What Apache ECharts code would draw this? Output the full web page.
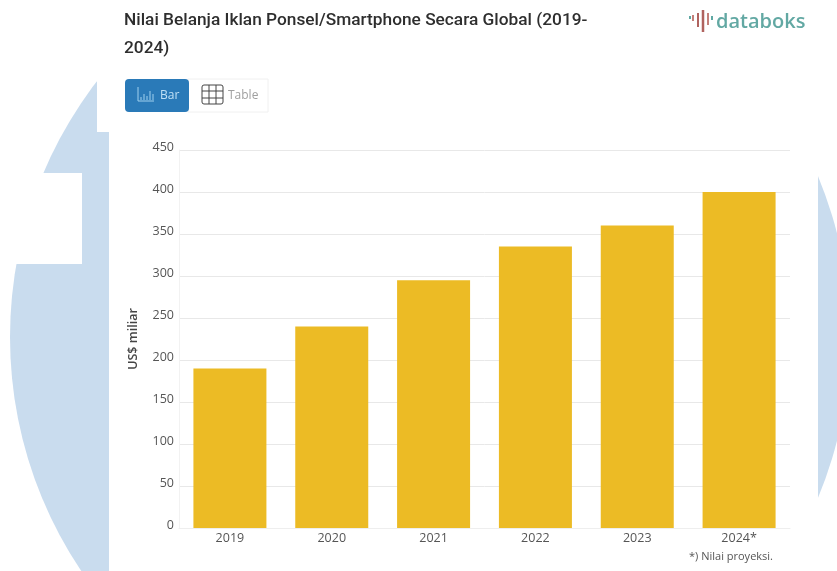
<!DOCTYPE html>
<html>
<head>
<meta charset="utf-8">
<style>html,body{margin:0;padding:0;background:#fff}#chart{width:837px;height:571px}</style>
<script src="https://cdn.jsdelivr.net/npm/echarts@6/dist/echarts.min.js"></script>
</head>
<body>
<div id="chart"></div>
<script>
// Mobile advertising spend per year, US$ billion
const years = ['2019', '2020', '2021', '2022', '2023', '2024*'];
const spend = [190, 240, 295, 335, 360, 400];
const yTicks = { min: 0, max: 450, interval: 50 };
const titleText = 'Nilai Belanja Iklan Ponsel/Smartphone Secara Global (2019-\n2024)';
const axisName = 'US$ miliar';
const footnote = '*) Nilai proyeksi.';
const brand = 'databoks';

const PAGE_BLUE = '#c9dcee', WHITE = '#ffffff', BAR = '#ecbb25', BTN = '#2a7ab8';
const FONT = 'Open Sans';

function rect(x, y, w, h, fill, r) {
  return { type: 'rect', shape: { x, y, width: w, height: h, r: r || 0 }, style: { fill } };
}
function stroke(x1, y1, x2, y2, color, w) {
  return { type: 'line', shape: { x1, y1, x2, y2 }, style: { stroke: color, lineWidth: w || 1 } };
}
function label(x, y, text, font, fill, align) {
  return { type: 'text', x, y, style: { text, font, fill, align: align || 'left', verticalAlign: 'middle' } };
}

// Page decoration: a large pale disc with the content panels cut out of it
const backdrop = [
  { type: 'circle', shape: { cx: 430, cy: 337, r: 420 }, style: { fill: PAGE_BLUE } },
  rect(97, 0, 740, 132, WHITE),
  rect(109, 132, 709, 439, WHITE),
  rect(0, 173, 82, 91, WHITE)
];

// Bar / Table switch
const toggle = [
  { type: 'rect', shape: { x: 188, y: 79, width: 80, height: 33 }, style: { fill: WHITE, stroke: '#f0f0f0' } },
  rect(125, 79, 64, 33, BTN, 4),
  stroke(138, 87, 138, 101, '#9fd0ee'), stroke(138, 101, 154, 101, '#9fd0ee'),
  stroke(141, 97, 141, 100, '#9fd0ee'), stroke(144, 94, 144, 100, '#9fd0ee'),
  stroke(147, 96, 147, 100, '#9fd0ee'), stroke(150, 91, 150, 100, '#9fd0ee'),
  stroke(153, 94, 153, 100, '#9fd0ee'),
  label(160, 96, 'Bar', '500 12px "' + FONT + '"', '#bfe0f5'),
  { type: 'rect', shape: { x: 202, y: 85, width: 21, height: 19, r: 2 }, style: { fill: 'none', stroke: '#444', lineWidth: 1 } },
  stroke(209, 85, 209, 104, '#444'), stroke(216, 85, 216, 104, '#444'),
  stroke(202, 91, 223, 91, '#444'), stroke(202, 98, 223, 98, '#444'),
  label(228, 96, 'Table', '12px "' + FONT + '"', '#a0a0a0')
];

// Brand mark and wordmark
const logo = [
  stroke(703, 10, 703, 32, '#b0635f', 2.5), stroke(698, 13, 698, 27, '#b0635f', 2),
  stroke(708, 13, 708, 25, '#c4807a', 2), stroke(693, 15, 693, 21, '#c4807a', 2),
  stroke(712, 16, 712, 20, '#5fa8a3', 2), stroke(690, 16, 690, 19, '#5fa8a3', 2),
  label(716, 22, brand, '600 20px "' + FONT + '"', '#62a8a3')
];

const chart = echarts.init(document.getElementById('chart'));
chart.setOption({
  animation: false,
  backgroundColor: WHITE,
  textStyle: { fontFamily: FONT },
  title: {
    text: titleText, left: 119, top: 2,
    textStyle: { fontFamily: 'Roboto', fontSize: 17.3, fontWeight: 500, color: '#2e2e2e', lineHeight: 28 }
  },
  grid: { left: 179, right: 47, top: 150, bottom: 43 },
  xAxis: {
    type: 'category', data: years,
    axisTick: { show: false },
    axisLine: { lineStyle: { color: '#eeeeee' } },
    axisLabel: { color: '#555555', fontSize: 12.5, margin: 4 }
  },
  yAxis: {
    type: 'value', min: yTicks.min, max: yTicks.max, interval: yTicks.interval,
    name: axisName, nameLocation: 'middle', nameGap: 39,
    nameTextStyle: { color: '#444444', fontSize: 12.5, fontWeight: 600 },
    axisLine: { show: true, lineStyle: { color: '#f2f2f2' } },
    axisTick: { show: false },
    axisLabel: { color: '#555555', fontSize: 12.5, margin: 5, verticalAlign: 'bottom', lineHeight: 6 },
    splitLine: { lineStyle: { color: '#e8e8e8' } }
  },
  series: [{
    type: 'bar', data: spend, barWidth: 73,
    itemStyle: { color: BAR }
  }],
  graphic: { elements: [...backdrop, ...toggle, ...logo,
    label(773, 557, footnote, '11px "' + FONT + '"', '#555555', 'right')] }
});
</script>
</body>
</html>
